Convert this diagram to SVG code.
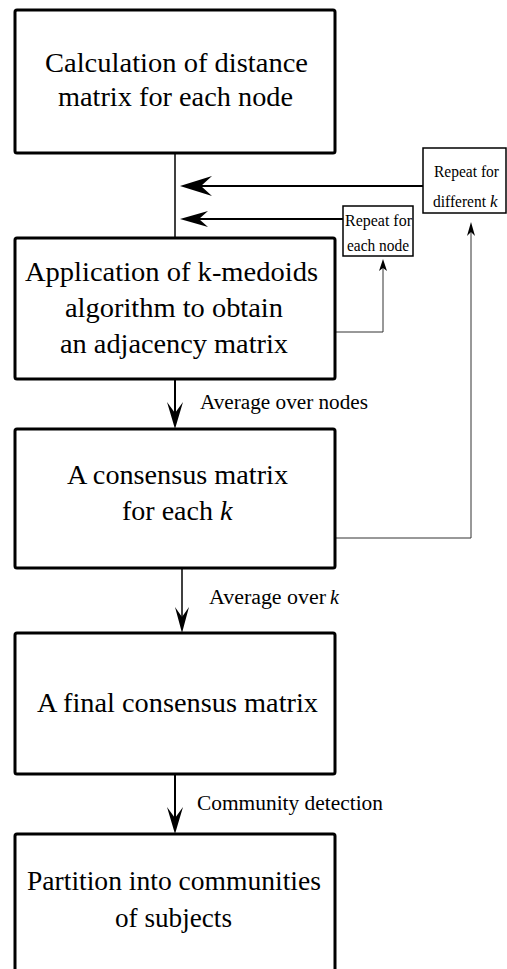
<svg xmlns="http://www.w3.org/2000/svg" width="507" height="969" viewBox="0 0 507 969">
<style>
.box{fill:#fff;stroke:#000;stroke-width:3;}
.sbox{fill:#fff;stroke:#000;stroke-width:1.5;}
.t{font-family:'Liberation Serif','Times New Roman',serif;font-size:28px;fill:#000;}
.s{font-family:'Liberation Serif','Times New Roman',serif;font-size:17px;fill:#000;}
.l{font-family:'Liberation Serif','Times New Roman',serif;font-size:20px;fill:#000;}
.ln{fill:none;stroke:#000;}
.thin{fill:none;stroke:#333;stroke-width:1;}
.hd{fill:#000;stroke:none;}
</style>
<rect width="507" height="969" fill="#fff"/>
<g id="connectors">
<line class="ln" x1="175" y1="153" x2="175" y2="238" stroke-width="1.5"/>
<line class="ln" x1="423" y1="186" x2="200" y2="186" stroke-width="2"/>
<path class="hd" d="M180,186 L212,176 L201,186 L212,196 Z"/>
<line class="ln" x1="343" y1="219" x2="198" y2="219" stroke-width="1.8"/>
<path class="hd" d="M180,219 L208,211 L199,219 L208,227 Z"/>
<polyline class="thin" points="335,332 383,332 383,266"/>
<path class="hd" d="M383,259 L379,271 L383,268 L387,271 Z"/>
<polyline class="thin" points="335,538 471,538 471,228"/>
<path class="hd" d="M471,222 L467,236 L471,232 L475,236 Z"/>
<line class="ln" x1="175" y1="379" x2="175" y2="418" stroke-width="2"/>
<path class="hd" d="M175,429 L167,402 L175,413 L183,402 Z"/>
<line class="ln" x1="182" y1="568" x2="182" y2="620" stroke-width="1.5"/>
<path class="hd" d="M182,633 L175,607 L182,617 L189,607 Z"/>
<line class="ln" x1="175" y1="774" x2="175" y2="822" stroke-width="2"/>
<path class="hd" d="M175,834 L167,807 L175,818 L183,807 Z"/>
<text class="l" x="200" y="409" textLength="168" lengthAdjust="spacingAndGlyphs">Average over nodes</text>
<text class="l" x="209" y="604" textLength="117" lengthAdjust="spacingAndGlyphs">Average over</text>
<text class="l" x="330" y="604" font-style="italic">k</text>
<text class="l" x="197" y="810" textLength="186" lengthAdjust="spacingAndGlyphs">Community detection</text>
</g>
<g id="node1">
<rect class="box" x="15" y="10" width="320" height="143" rx="2"/>
<text class="t" x="45" y="72" textLength="263" lengthAdjust="spacingAndGlyphs">Calculation of distance</text>
<text class="t" x="58" y="106" textLength="235" lengthAdjust="spacingAndGlyphs">matrix for each node</text>
</g>
<g id="node2">
<rect class="box" x="15" y="238" width="320" height="141" rx="2"/>
<text class="t" x="25" y="281" textLength="293" lengthAdjust="spacingAndGlyphs">Application of k-medoids</text>
<text class="t" x="65" y="317" textLength="218" lengthAdjust="spacingAndGlyphs">algorithm to obtain</text>
<text class="t" x="60" y="353" textLength="228" lengthAdjust="spacingAndGlyphs">an adjacency matrix</text>
</g>
<g id="node3">
<rect class="box" x="15" y="429" width="320" height="139" rx="2"/>
<text class="t" x="67" y="484" textLength="221" lengthAdjust="spacingAndGlyphs">A consensus matrix</text>
<text class="t" x="122" y="520" textLength="91" lengthAdjust="spacingAndGlyphs">for each</text>
<text class="t" x="220" y="520" font-style="italic">k</text>
</g>
<g id="node4">
<rect class="box" x="15" y="633" width="320" height="141" rx="2"/>
<text class="t" x="37" y="712" textLength="281" lengthAdjust="spacingAndGlyphs">A final consensus matrix</text>
</g>
<g id="node5">
<rect class="box" x="15" y="834" width="320" height="150" rx="2"/>
<text class="t" x="27" y="890" textLength="294" lengthAdjust="spacingAndGlyphs">Partition into communities</text>
<text class="t" x="115" y="927" textLength="117" lengthAdjust="spacingAndGlyphs">of subjects</text>
</g>
<g id="repeat-k">
<rect class="sbox" x="423" y="148" width="83" height="65"/>
<text class="s" x="434" y="177" textLength="65" lengthAdjust="spacingAndGlyphs">Repeat for</text>
<text class="s" x="433" y="207" textLength="53" lengthAdjust="spacingAndGlyphs">different</text>
<text class="s" x="490" y="207" font-style="italic">k</text>
</g>
<g id="repeat-node">
<rect class="sbox" x="343" y="206" width="70" height="50"/>
<text class="s" x="345" y="226" textLength="67" lengthAdjust="spacingAndGlyphs">Repeat for</text>
<text class="s" x="347" y="251" textLength="62" lengthAdjust="spacingAndGlyphs">each node</text>
</g>
</svg>
